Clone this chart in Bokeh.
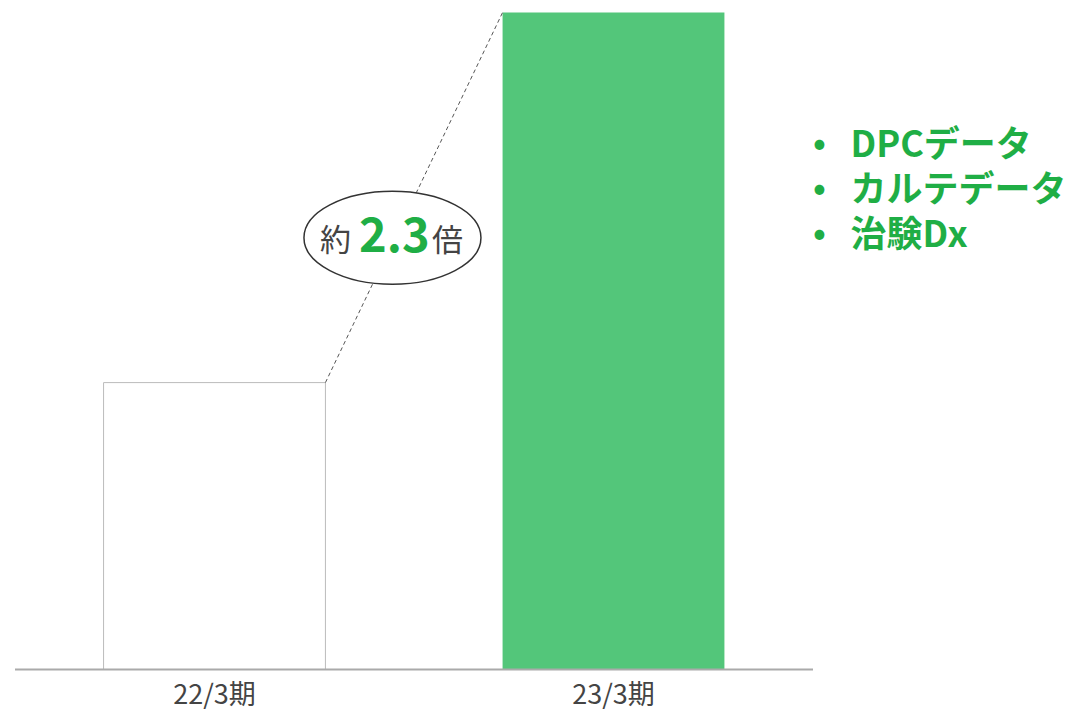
from bokeh.plotting import figure
from bokeh.models import Range1d, Label
from bokeh.core.properties import value
from bokeh.embed import file_html
from bokeh.resources import INLINE

# ---- data ----
categories = ["22/3期", "23/3期"]
values = [100, 229]
ratio_text = "2.3"
legend_items = ["DPCデータ", "カルテデータ", "治験Dx"]

FONT = "Noto Sans CJK JP"
GREEN_BAR = "#53c67a"
GREEN_TXT = "#1fae45"
GRAY_TXT = "#444444"

W, H = 1077, 711
x_pos = [0, 1]
bar_w = 0.556

# y mapping: baseline at canvas 669, top bar at canvas 12
px_per_unit = 657 / max(values)
y0 = -(H - 669) / px_per_unit
y1 = max(values) + 12 / px_per_unit
# x mapping: 399 px per category, category 0 centred at canvas 214
px_per_x = 399
x0 = -214 / px_per_x
x1 = x0 + W / px_per_x

p = figure(width=W, height=H, output_backend="svg", toolbar_location=None,
           x_range=Range1d(x0, x1), y_range=Range1d(y0, y1),
           min_border=0, outline_line_color=None)
p.axis.visible = False
p.grid.visible = False
p.background_fill_color = "white"
p.border_fill_color = "white"

# bars
p.vbar(x=[x_pos[0]], top=[values[0]], bottom=0, width=bar_w,
       fill_color="white", line_color="#bbbbbb", line_width=1)
p.vbar(x=[x_pos[1]], top=[values[1]], bottom=0, width=bar_w,
       fill_color=GREEN_BAR, line_color=None)

# dashed connector from top-right of bar 1 to top-left of bar 2
p.line(x=[x_pos[0] + bar_w / 2, x_pos[1] - bar_w / 2], y=[values[0], values[1]],
       line_color="#555555", line_width=1, line_dash="4 3")

# baseline
p.segment(x0=[x_pos[0] - 0.5], y0=[0], x1=[x_pos[1] + 0.5], y1=[0],
          line_color="#aaaaaa", line_width=2)

# category labels
p.text(x=x_pos, y=[0, 0], text=categories, text_align="center",
       text_baseline="middle", y_offset=23, text_font=value(FONT),
       text_font_size="27px", text_color=GRAY_TXT)

# ellipse callout
ex = (x_pos[0] + x_pos[1]) / 2 - 0.054
ey = (values[0] + values[1]) / 2 - 14
p.ellipse(x=[ex], y=[ey], width=177, height=93, width_units="screen",
          height_units="screen", fill_color="white", line_color="#333333",
          line_width=1.5)
p.text(x=[ex], y=[ey], text=["約"], x_offset=-57, text_align="center",
       text_baseline="middle", text_font=value(FONT), text_font_size="31px",
       text_color=GRAY_TXT)
p.text(x=[ex], y=[ey], text=[ratio_text], x_offset=2, y_offset=-3,
       text_align="center", text_baseline="middle", text_font=value(FONT),
       text_font_size="47px", text_font_style="bold", text_color=GREEN_TXT)
p.text(x=[ex], y=[ey], text=["倍"], x_offset=55, text_align="center",
       text_baseline="middle", text_font=value(FONT), text_font_size="31px",
       text_color=GRAY_TXT)

# bullet list
for i, item in enumerate(legend_items):
    cy = H - (140 + 45 * i)
    p.add_layout(Label(x=819, y=cy, x_units="screen", y_units="screen", text="•",
                       text_align="center", text_baseline="middle",
                       text_font=FONT, text_font_size="34px", text_font_style="bold",
                       text_color=GREEN_TXT))
    p.add_layout(Label(x=850, y=cy, x_units="screen", y_units="screen", text=item,
                       text_align="left", text_baseline="middle",
                       text_font=FONT, text_font_size="36px", text_font_style="bold",
                       text_color=GREEN_TXT))

open("out.html", "w").write(file_html(p, INLINE))
